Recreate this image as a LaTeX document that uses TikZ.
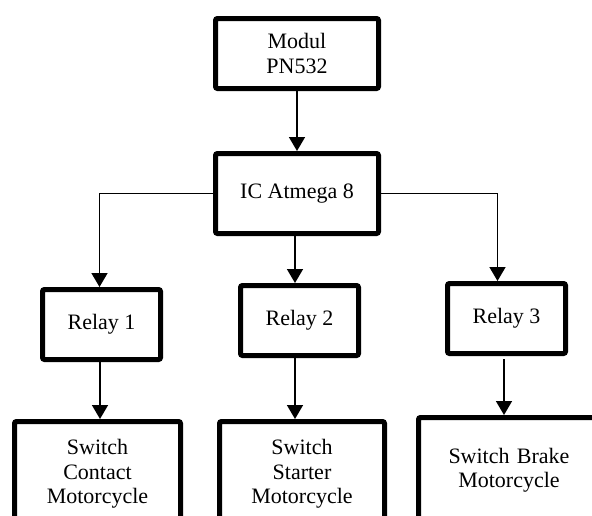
\documentclass[tikz,border=0pt]{standalone}
\usepackage{fontspec}
\setmainfont{Liberation Serif}
\usepackage{tikz}
\usetikzlibrary{
    arrows.meta,
    positioning,
    calc
}
\tikzset{
    % Thick framed block
    blockbox/.style={
        rectangle,
        rounded corners=2pt,
        draw=black,
        line width=5pt,
        fill=white,
        text=black,
        font=\fontsize{22}{24.5}\selectfont,
        align=center,
        inner sep=2pt,
        minimum width=#1
    },
    blockbox/.default=118pt,
    % Output switch block (runs off the page)
    switchbox/.style={
        blockbox=#1,
        minimum height=105pt,
        text width=#1-10pt
    },
    switchbox/.default=166pt,
    % Arrow style
    flowarrow/.style={
        -{Triangle[width=16pt,length=14pt]},
        line width=1.6pt,
        color=black
    }
}
\begin{document}
\begin{tikzpicture}[x=1pt, y=-1pt]
    \useasboundingbox (0,0) rectangle (592,515);
    \clip (0,0) rectangle (592,515);

    % top chain
    \node[blockbox=163pt, minimum height=70pt] (modul) at (297,53.5) {Modul\\PN532};
    \node[blockbox=163pt, minimum height=80pt] (ic) at (297,193.5) {IC Atmega 8};

    % relays
    \node[blockbox, minimum height=70pt] (relay1) at (101.5,324.5) {Relay 1};
    \node[blockbox, minimum height=70pt] (relay2) at (299.5,320.5) {Relay 2};
    \node[blockbox, minimum height=70pt] (relay3) at (506.5,318.5) {Relay 3};

    % switches
    \node[switchbox=166pt] (contact) at (97.5,474) {Switch\\Contact\\Motorcycle};
    \node[switchbox=165pt] (starter) at (302,474) {Switch\\Starter\\Motorcycle};
    \node[switchbox=181pt] (brake) at (509,470) {Switch Brake\\Motorcycle};

    % connectors
    \draw[flowarrow] (modul.south) -- (ic.north);
    \draw[flowarrow] ([xshift=-2pt]ic.south) -- ([xshift=-2pt]ic.south |- relay2.north);
    \coordinate (left-drop) at ($(relay1.north)+(-2,0)$);
    \coordinate (right-drop) at ($(relay3.north)+(-9,0)$);
    \draw[flowarrow] (ic.west) -| (left-drop);
    \draw[flowarrow] (ic.east) -| (right-drop);

    \draw[flowarrow] ([xshift=-1.5pt]relay1.south) -- ([xshift=-1.5pt]relay1.south |- contact.north);
    \draw[flowarrow] ([xshift=-4.5pt]relay2.south) -- ([xshift=-4.5pt]relay2.south |- starter.north);
    \draw[flowarrow] ([xshift=-2.5pt,yshift=-3pt]relay3.south) -- ([xshift=-2.5pt]relay3.south |- brake.north);
\end{tikzpicture}
\end{document}
